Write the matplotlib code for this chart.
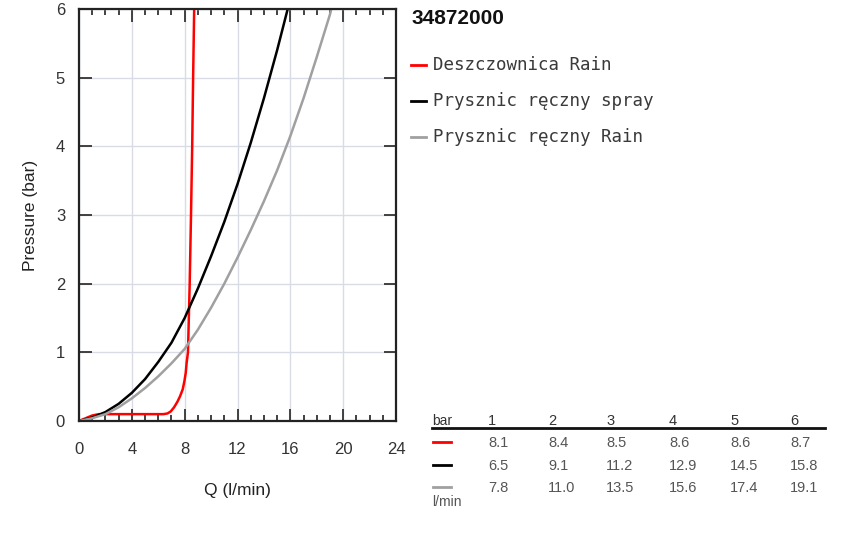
import matplotlib
matplotlib.use("agg")
import matplotlib.pyplot as plt
from matplotlib.lines import Line2D
from matplotlib.ticker import MultipleLocator

# curve points (Q l/min, pressure bar)
red_q = [0, 0.5, 1.0, 1.5, 3, 5, 6.4, 6.7, 6.95, 7.2, 7.45, 7.65, 7.85, 7.98, 8.08, 8.15, 8.25, 8.38, 8.48, 8.57, 8.64, 8.72]
red_p = [0, 0.04, 0.08, 0.1, 0.1, 0.1, 0.1, 0.11, 0.14, 0.2, 0.28, 0.36, 0.46, 0.58, 0.7, 0.85, 1.0, 2.0, 3.0, 4.0, 5.0, 6.0]

black_q = [0, 1, 2, 3, 4, 5, 6, 6.5, 7, 8, 9, 10, 11, 12, 13, 14, 15, 15.8]
black_p = [0, 0.05, 0.13, 0.25, 0.41, 0.61, 0.86, 1.0, 1.14, 1.5, 1.93, 2.4, 2.9, 3.45, 4.05, 4.7, 5.4, 6.0]

gray_q = [0, 1, 2, 3, 4, 5, 6, 7, 8, 9, 10, 11, 12, 13, 14, 15, 16, 17, 18, 19, 19.1]
gray_p = [0, 0.04, 0.1, 0.2, 0.33, 0.48, 0.65, 0.84, 1.05, 1.33, 1.65, 2.0, 2.38, 2.78, 3.2, 3.65, 4.15, 4.7, 5.3, 5.92, 6.0]

names = ["Deszczownica Rain", "Prysznic ręczny spray", "Prysznic ręczny Rain"]
colors = ["#ff0000", "#000000", "#a0a0a0"]

# table
bar_vals = [1, 2, 3, 4, 5, 6]
table_rows = [
	["8.1", "8.4", "8.5", "8.6", "8.6", "8.7"],
	["6.5", "9.1", "11.2", "12.9", "14.5", "15.8"],
	["7.8", "11.0", "13.5", "15.6", "17.4", "19.1"],
]

plt.rcParams["font.family"] = ["Liberation Sans", "DejaVu Sans"]

W, H = 850, 534
fig = plt.figure(figsize=(8.5, 5.34), dpi=100)
ax = fig.add_axes([79 / W, 1 - 421 / H, (396 - 79) / W, (421 - 9) / H])

curves = [(red_q, red_p), (black_q, black_p), (gray_q, gray_p)]
for (q, p), c in zip(curves, colors):
	ax.plot(q, p, color=c, lw=1.8, solid_joinstyle="round", solid_capstyle="round")

ax.set_xlim(0, 24)
ax.set_ylim(0, 6)
ax.xaxis.set_major_locator(MultipleLocator(4))
ax.xaxis.set_minor_locator(MultipleLocator(1))
ax.yaxis.set_major_locator(MultipleLocator(1))
ax.grid(True, which="major", color="#d9dce5", lw=1.0)
ax.set_axisbelow(True)
ax.tick_params(which="both", direction="in", top=True, right=True, color="#333333", width=1.3)
ax.tick_params(which="major", length=9, labelsize=12, colors="#333333")
ax.tick_params(which="minor", length=4.5)
ax.tick_params(axis="x", which="major", pad=15)
ax.tick_params(axis="y", which="major", pad=10)
ax.tick_params(axis="y", which="minor", left=False, right=False)
for s in ax.spines.values():
	s.set_linewidth(1.6)
	s.set_color("#222222")

ax.set_xlabel("Q (l/min)", fontsize=12.5, color="#222222", labelpad=19)
ax.set_ylabel("Pressure (bar)", fontsize=12.5, color="#222222", labelpad=13)

# title and legend
fig.text(411 / W, 1 - 18 / H, "34872000", fontsize=15, fontweight="bold", va="center", ha="left", color="#111111")
leg_y = [65, 101, 137]
for name, c, y in zip(names, colors, leg_y):
	fig.add_artist(Line2D([411 / W, 426 / W], [1 - y / H, 1 - y / H], color=c, lw=2))
	fig.text(433 / W, 1 - y / H, name, fontsize=12.6, family="DejaVu Sans Mono", va="center", ha="left", color="#3a3a3a")

# value table
col_x = [488, 548, 606, 669, 730, 790]
fig.text(432 / W, 1 - 421 / H, "bar", fontsize=10, va="center", ha="left", color="#333333")
for x, b in zip(col_x, bar_vals):
	fig.text(x / W, 1 - 421 / H, str(b), fontsize=10.5, va="center", ha="left", color="#333333")
fig.add_artist(Line2D([432 / W, 825 / W], [1 - 428 / H, 1 - 428 / H], color="#111111", lw=2))
row_y = [443, 466, 488]
for row, c, y in zip(table_rows, colors, row_y):
	ly = y - 1.5
	fig.add_artist(Line2D([433 / W, 451 / W], [1 - ly / H, 1 - ly / H], color=c, lw=2))
	for x, v in zip(col_x, row):
		fig.text(x / W, 1 - y / H, v, fontsize=10.5, va="center", ha="left", color="#555555")
fig.text(432 / W, 1 - 502 / H, "l/min", fontsize=10, va="center", ha="left", color="#555555")

fig.savefig("out.png", dpi=100)
